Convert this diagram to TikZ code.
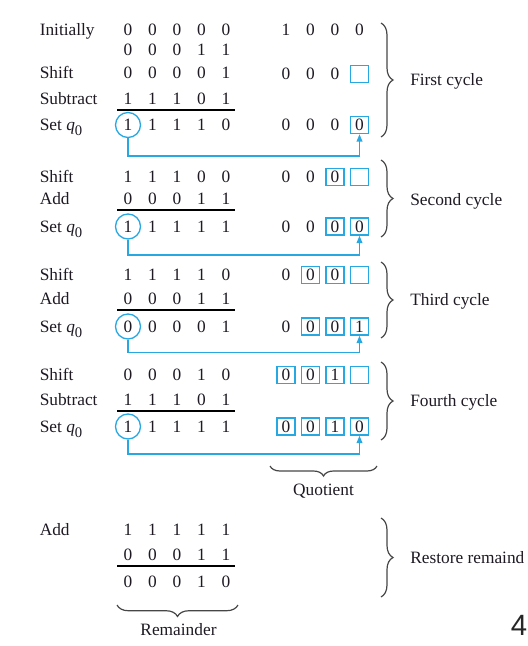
\documentclass[tikz,border=0pt]{standalone}
\usepackage{fontspec}
\setmainfont{Liberation Serif}
\newfontfamily\serifx{Liberation Serif}
\newfontfamily\pagenumfont{Liberation Sans}
\usetikzlibrary{decorations.pathreplacing,arrows.meta}
\definecolor{qblue}{RGB}{40,168,226}
\definecolor{bracegray}{RGB}{70,70,70}
\definecolor{txt}{RGB}{30,25,35}
\newcommand\digrow[3]{\foreach \d [count=\i] in {#3} {\node[dig] (#1-\i) at ({103.5+24.5*\i},#2) {\d};}}
\newcommand\setrow[3]{\foreach \d [count=\i] in {#3} {\node[dig] (#1-\i) at ({128+24.5*\i},#2) {\d};}}
\newcommand\qsub{{\itshape q}\raisebox{-0.6ex}{\fontsize{11}{12}\selectfont 0}}
\begin{document}
\begin{tikzpicture}[x=0.75pt,y=-0.75pt,
  every node/.style={font=\serifx\fontsize{13}{15}\selectfont, text=txt, inner sep=0pt},
  lbl/.style={anchor=base west, yshift=-4.3pt},
  dig/.style={anchor=center},
  qbox/.style={draw=qblue, line width=1pt, minimum width=13.5pt, minimum height=12.75pt},
  qcirc/.style={draw=qblue, line width=1pt, circle, minimum size=18.75pt},
  rulel/.style={draw=black, line width=0.8pt},
  linkarr/.style={draw=qblue, line width=1.1pt, -{Triangle[length=5.5pt,width=4.2pt]}},
  vbrace/.style={draw=bracegray, line width=0.9pt, decorate, decoration={brace, amplitude=9pt}},
  hbrace/.style={draw=bracegray, line width=0.9pt, decorate, decoration={brace, amplitude=#1}},
]
\useasboundingbox (0,0) rectangle (528,646);

% ---------- First cycle ----------
\node[lbl] (l1a) at (39.5,30) {Initially};
\node[lbl] (l1b) at (39.5,73) {Shift};
\node[lbl] (l1c) at (39.5,99) {Subtract};
\node[lbl] (l1d) at (39.5,125) {Set \qsub};
\digrow{a1}{30}{0,0,0,0,0}
\digrow{a2}{50}{0,0,0,1,1}
\digrow{a3}{73}{0,0,0,0,1}
\digrow{a4}{99}{1,1,1,0,1}
\coordinate (r1a) at (117,110); \coordinate (r1b) at (235,110);
\draw[rulel] (r1a) -- (r1b);
\node[qcirc] (c1) at (128,125) {1};
\setrow{a5}{125}{1,1,1,0}
\node[dig] (p1-1) at (286,30) {1};
\node[dig] (p1-2) at (310.5,30) {0};
\node[dig] (p1-3) at (335,30) {0};
\node[dig] (p1-4) at (359.5,30) {0};
\node[dig] (p2-1) at (286,74) {0};
\node[dig] (p2-2) at (310.5,74) {0};
\node[dig] (p2-3) at (335,74) {0};
\node[qbox] (p2-4) at (359.5,74) {};
\node[dig] (p3-1) at (286,125) {0};
\node[dig] (p3-2) at (310.5,125) {0};
\node[dig] (p3-3) at (335,125) {0};
\node[qbox] (p3-4) at (359.5,125) {0};
\coordinate (h1) at (128,156);
\draw[linkarr] (c1.south) -- (h1) -| (p3-4.south);
\coordinate (b1t) at (381,23); \coordinate (b1b) at (381,137);
\draw[vbrace] (b1t) -- (b1b);
\node[lbl] (t1) at (410,80) {First cycle};

% ---------- Second cycle ----------
\node[lbl] (l2a) at (39.5,177) {Shift};
\node[lbl] (l2b) at (39.5,198.5) {Add};
\node[lbl] (l2c) at (39.5,226.5) {Set \qsub};
\digrow{b1}{177}{1,1,1,0,0}
\digrow{b2}{198.5}{0,0,0,1,1}
\coordinate (r2a) at (117,210); \coordinate (r2b) at (235,210);
\draw[rulel] (r2a) -- (r2b);
\node[qcirc] (c2) at (128,226.5) {1};
\setrow{b3}{226.5}{1,1,1,1}
\node[dig] (s1-1) at (286,177) {0};
\node[dig] (s1-2) at (310.5,177) {0};
\node[qbox] (s1-3) at (335,177) {0};
\node[qbox] (s1-4) at (359.5,177) {};
\node[dig] (s2-1) at (286,226.5) {0};
\node[dig] (s2-2) at (310.5,226.5) {0};
\node[qbox] (s2-3) at (335,226.5) {0};
\node[qbox] (s2-4) at (359.5,226.5) {0};
\coordinate (h2) at (128,255);
\draw[linkarr] (c2.south) -- (h2) -| (s2-4.south);
\coordinate (b2t) at (381,160); \coordinate (b2b) at (381,237);
\draw[vbrace] (b2t) -- (b2b);
\node[lbl] (t2) at (410,200) {Second cycle};

% ---------- Third cycle ----------
\node[lbl] (l3a) at (39.5,275) {Shift};
\node[lbl] (l3b) at (39.5,298.5) {Add};
\node[lbl] (l3c) at (39.5,326.5) {Set \qsub};
\digrow{c1r}{275}{1,1,1,1,0}
\digrow{c2r}{298.5}{0,0,0,1,1}
\coordinate (r3a) at (117,310); \coordinate (r3b) at (235,310);
\draw[rulel] (r3a) -- (r3b);
\node[qcirc] (c3) at (128,326.5) {0};
\setrow{c3r}{326.5}{0,0,0,1}
\node[dig] (u1-1) at (286,275) {0};
\node[qbox] (u1-2) at (310.5,275) {0};
\node[qbox] (u1-3) at (335,275) {0};
\node[qbox] (u1-4) at (359.5,275) {};
\node[dig] (u2-1) at (286,326.5) {0};
\node[qbox] (u2-2) at (310.5,326.5) {0};
\node[qbox] (u2-3) at (335,326.5) {0};
\node[qbox] (u2-4) at (359.5,326.5) {1};
\coordinate (h3) at (128,352.5);
\draw[linkarr] (c3.south) -- (h3) -| (u2-4.south);
\coordinate (b3t) at (381,262); \coordinate (b3b) at (381,338);
\draw[vbrace] (b3t) -- (b3b);
\node[lbl] (t3) at (410,300) {Third cycle};

% ---------- Fourth cycle ----------
\node[lbl] (l4a) at (39.5,375) {Shift};
\node[lbl] (l4b) at (39.5,400) {Subtract};
\node[lbl] (l4c) at (39.5,426.5) {Set \qsub};
\digrow{d1r}{375}{0,0,0,1,0}
\digrow{d2r}{400}{1,1,1,0,1}
\coordinate (r4a) at (117,411); \coordinate (r4b) at (235,411);
\draw[rulel] (r4a) -- (r4b);
\node[qcirc] (c4) at (128,426.5) {1};
\setrow{d3r}{426.5}{1,1,1,1}
\node[qbox] (v1-1) at (286,375) {0};
\node[qbox] (v1-2) at (310.5,375) {0};
\node[qbox] (v1-3) at (335,375) {1};
\node[qbox] (v1-4) at (359.5,375) {};
\node[qbox] (v2-1) at (286,426.5) {0};
\node[qbox] (v2-2) at (310.5,426.5) {0};
\node[qbox] (v2-3) at (335,426.5) {1};
\node[qbox] (v2-4) at (359.5,426.5) {0};
\coordinate (h4) at (128,454);
\draw[linkarr] (c4.south) -- (h4) -| (v2-4.south);
\coordinate (b4t) at (381,362); \coordinate (b4b) at (381,440);
\draw[vbrace] (b4t) -- (b4b);
\node[lbl] (t4) at (410,401) {Fourth cycle};

% Quotient
\coordinate (qbr) at (377,466); \coordinate (qbl) at (270,466);
\draw[hbrace=7.5pt] (qbr) -- (qbl);
\node (quot) at (323.5,491.5) {Quotient};

% ---------- Restore ----------
\node[lbl] (l5a) at (39.5,530) {Add};
\digrow{e1r}{530}{1,1,1,1,1}
\digrow{e2r}{555}{0,0,0,1,1}
\coordinate (r5a) at (117,566); \coordinate (r5b) at (235,566);
\draw[rulel] (r5a) -- (r5b);
\digrow{e3r}{581.5}{0,0,0,1,0}
\coordinate (b5t) at (381,518); \coordinate (b5b) at (381,597);
\draw[vbrace] (b5t) -- (b5b);
\node[lbl] (t5) at (410,558) {Restore remaind};
\coordinate (rbr) at (238,605); \coordinate (rbl) at (117,605);
\draw[hbrace=8.6pt] (rbr) -- (rbl);
\node (rem) at (178.5,630) {Remainder};

% page number fragment
\node[anchor=east, font=\pagenumfont\fontsize{22}{26}\selectfont, text=black!85] (pg) at (527.5,625) {4};
\end{tikzpicture}
\end{document}
